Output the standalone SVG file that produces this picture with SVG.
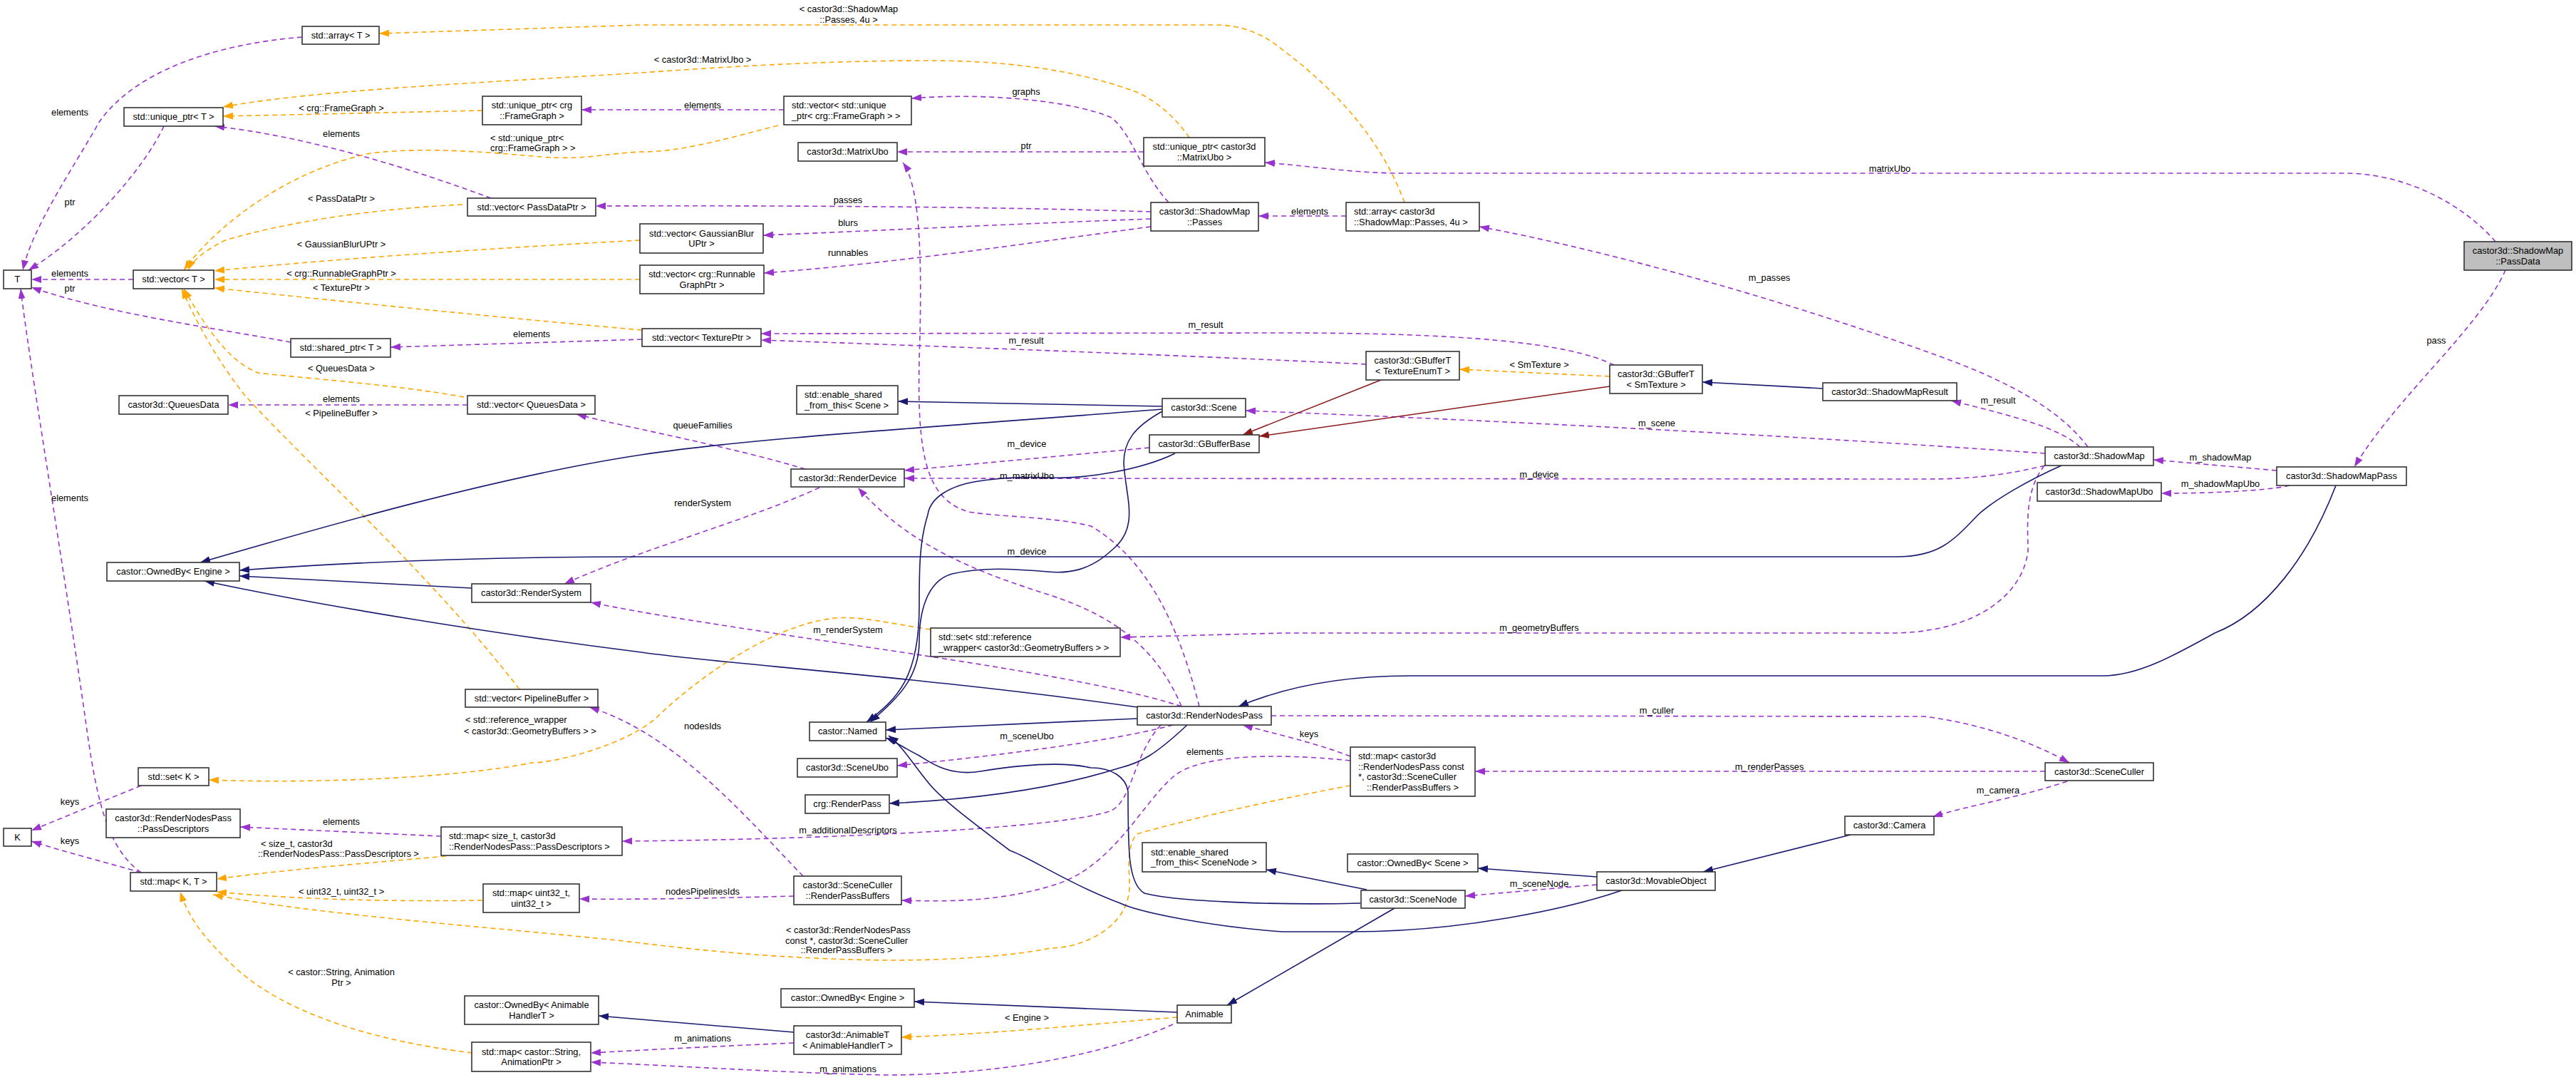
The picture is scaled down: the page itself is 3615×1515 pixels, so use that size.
<svg xmlns="http://www.w3.org/2000/svg" width="3615" height="1515" viewBox="0 0 3615 1515">
<style>
.n rect{fill:#fff;stroke:#333;stroke-width:1.6}
.n rect.g{fill:#bfbfbf}
text{font-family:"Liberation Sans",Arial,sans-serif;font-size:12.8px;fill:#000}
.c{text-anchor:middle}
.u{fill:none;stroke:#9a32cd;stroke-width:1.6;stroke-dasharray:7,5}
.t{fill:none;stroke:#ffa500;stroke-width:1.6;stroke-dasharray:7,5}
.i{fill:none;stroke:#191970;stroke-width:1.6}
.r{fill:none;stroke:#8b1a1a;stroke-width:1.6}
.u{marker-end:url(#mu)}
.t{marker-end:url(#mt)}
.i{marker-end:url(#mi)}
.r{marker-end:url(#mr)}
</style>
<defs>
<marker id="mu" viewBox="0 0 14 10" refX="14" refY="5" markerWidth="14" markerHeight="10" markerUnits="userSpaceOnUse" orient="auto"><path d="M0,0L14,5L0,10z" fill="#9a32cd"/></marker>
<marker id="mt" viewBox="0 0 14 10" refX="14" refY="5" markerWidth="14" markerHeight="10" markerUnits="userSpaceOnUse" orient="auto"><path d="M0,0L14,5L0,10z" fill="#ffa500"/></marker>
<marker id="mi" viewBox="0 0 14 10" refX="14" refY="5" markerWidth="14" markerHeight="10" markerUnits="userSpaceOnUse" orient="auto"><path d="M0,0L14,5L0,10z" fill="#191970"/></marker>
<marker id="mr" viewBox="0 0 14 10" refX="14" refY="5" markerWidth="14" markerHeight="10" markerUnits="userSpaceOnUse" orient="auto"><path d="M0,0L14,5L0,10z" fill="#8b1a1a"/></marker>
</defs>
<rect width="3615" height="1515" fill="#fff"/>
<g id="connectors">
<!-- usage -->
<path class="u" d="M424,52 C300,62 190,100 140,170 C100,240 45,320 32,379"/>
<path class="u" d="M230,177 C200,240 120,330 40,379"/>
<path class="u" d="M187,392 L44,392"/>
<path class="u" d="M408,480 C300,460 150,440 44,403"/>
<path class="u" d="M198,1224 C150,1190 135,1120 120,1010 C90,800 40,500 29,405"/>
<path class="u" d="M689,278 C560,230 420,190 301,177"/>
<path class="u" d="M1100,154 L816,154"/>
<path class="u" d="M1640,284 C1600,240 1590,190 1560,165 C1500,140 1380,130 1279,138"/>
<path class="u" d="M1605,213 L1259,213"/>
<path class="u" d="M1615,297 C1400,290 1100,288 836,289"/>
<path class="u" d="M1615,307 C1400,315 1200,325 1071,330"/>
<path class="u" d="M1615,318 C1450,340 1250,370 1072,383"/>
<path class="u" d="M1889,303 L1766,303"/>
<path class="u" d="M3502,339 C3460,290 3380,243 3290,243 L1966,243 C1900,243 1830,232 1775,228"/>
<path class="u" d="M2930,627 C2880,560 2780,520 2700,492 C2500,420 2250,350 2076,318"/>
<path class="u" d="M3516,379 C3480,460 3360,560 3304,655"/>
<path class="u" d="M2265,512 C2200,480 2050,467 1800,467 L1068,468"/>
<path class="u" d="M1917,511 C1700,500 1300,485 1068,477"/>
<path class="u" d="M901,476 L548,487"/>
<path class="u" d="M2919,627 C2890,600 2830,585 2738,562"/>
<path class="u" d="M2870,636 C2500,610 2100,590 1748,576"/>
<path class="u" d="M2870,653 C2800,670 2750,672 2700,672 L1269,671"/>
<path class="u" d="M1613,628 L1269,660"/>
<path class="u" d="M2869,653 C2840,690 2846,740 2846,772 C2840,830 2780,885 2661,888 L1800,888 L1572,894"/>
<path class="u" d="M3195,660 L3022,645"/>
<path class="u" d="M3213,681 C3190,687 3120,692 3033,692"/>
<path class="u" d="M1130,658 C1020,625 880,600 809,581"/>
<path class="u" d="M656,568 L320,568"/>
<path class="u" d="M1150,684 C1050,730 900,770 792,819"/>
<path class="u" d="M1658,991 C1620,900 1550,860 1474,835 C1380,805 1280,770 1204,684"/>
<path class="u" d="M1658,991 C1550,955 1300,920 1130,895 C1000,875 900,860 829,845"/>
<path class="u" d="M1683,991 C1660,900 1620,790 1531,738 C1480,725 1400,725 1359,718 C1300,700 1287,640 1290,505 C1295,350 1290,260 1267,228"/>
<path class="u" d="M1646,1017 C1560,1040 1400,1060 1259,1074"/>
<path class="u" d="M1784,1004 L2700,1005 C2780,1015 2850,1040 2904,1070"/>
<path class="u" d="M2870,1082 L2070,1082"/>
<path class="u" d="M1895,1061 C1840,1040 1790,1030 1744,1017"/>
<path class="u" d="M1895,1067 C1780,1055 1680,1060 1646,1090 C1600,1130 1560,1220 1474,1243 C1400,1265 1330,1265 1265,1263"/>
<path class="u" d="M1629,1017 C1590,1060 1590,1120 1560,1137 C1500,1160 1200,1177 873,1180"/>
<path class="u" d="M619,1173 L337,1160"/>
<path class="u" d="M1127,1229 C1050,1150 950,1030 827,992"/>
<path class="u" d="M1114,1257 C1000,1260 900,1262 813,1261"/>
<path class="u" d="M198,1102 L44,1165"/>
<path class="u" d="M198,1224 C150,1210 90,1195 44,1180"/>
<path class="u" d="M1114,1463 C1000,1468 900,1473 829,1477"/>
<path class="u" d="M1646,1437 C1550,1480 1400,1508 1244,1508 C1100,1505 950,1495 829,1490"/>
<path class="u" d="M2241,1241 L2056,1257"/>
<path class="u" d="M2901,1096 C2830,1120 2760,1130 2712,1146"/>
<!-- template -->
<path class="t" d="M1971,284 C1940,200 1880,130 1800,70 C1770,45 1740,35 1704,35 L900,35 L532,47"/>
<path class="t" d="M1669,193 C1640,150 1600,130 1589,127 C1500,95 1400,85 1302,85 C1150,85 1000,95 900,102 C700,115 450,125 313,150"/>
<path class="t" d="M677,155 L313,163"/>
<path class="t" d="M1092,176 C1000,200 950,213 900,213 C850,215 820,225 760,220 C700,215 600,205 520,215 C400,240 300,320 258,379"/>
<path class="t" d="M649,287 C520,293 400,312 316,337 C290,350 270,365 264,379"/>
<path class="t" d="M898,337 C750,345 500,360 301,380"/>
<path class="t" d="M898,392 L301,392"/>
<path class="t" d="M901,463 C750,450 500,425 301,404"/>
<path class="t" d="M651,557 C560,540 420,530 362,523 C330,510 300,480 258,405"/>
<path class="t" d="M729,967 C600,800 430,650 344,555 C300,500 270,440 255,405"/>
<path class="t" d="M2259,528 L2048,518"/>
<path class="t" d="M1306,883 C1250,875 1200,862 1164,868 C1080,880 980,950 923,1005 C880,1045 780,1070 746,1070 C650,1090 450,1100 293,1094"/>
<path class="t" d="M626,1201 C500,1212 400,1220 304,1233"/>
<path class="t" d="M677,1263 C550,1265 420,1262 304,1251"/>
<path class="t" d="M1895,1102 C1850,1110 1700,1140 1595,1170 C1580,1190 1585,1220 1585,1243 C1585,1300 1520,1330 1474,1330 C1400,1345 1300,1347 1244,1347 C1100,1345 1000,1335 900,1323 C750,1305 450,1285 299,1255"/>
<path class="t" d="M663,1477 C520,1460 400,1420 333,1360 C290,1320 265,1290 253,1251"/>
<path class="t" d="M1652,1427 C1550,1435 1400,1450 1265,1455"/>
<!-- inheritance -->
<path class="i" d="M1631,570 L1260,563"/>
<path class="i" d="M1631,574 C1300,600 1050,615 900,638 C700,668 450,740 281,789"/>
<path class="i" d="M1631,577 C1590,600 1577,620 1577,650 C1580,700 1600,740 1560,772 C1530,800 1500,805 1470,802 C1420,798 1380,795 1336,805 C1300,815 1290,860 1290,900 C1290,950 1260,980 1221,1013"/>
<path class="i" d="M1649,636 C1600,660 1520,672 1474,670 C1420,668 1394,672 1380,674 C1330,680 1305,700 1302,722 C1290,760 1290,800 1290,850 C1290,950 1260,980 1216,1013"/>
<path class="i" d="M2893,653 C2850,672 2800,700 2776,722 C2740,760 2720,781 2661,781 L900,781 C700,781 500,788 336,800"/>
<path class="i" d="M662,825 L336,808"/>
<path class="i" d="M1596,992 C1300,950 1000,930 900,915 C700,890 450,850 287,815"/>
<path class="i" d="M1596,1008 L1243,1024"/>
<path class="i" d="M1666,1017 C1620,1060 1600,1070 1572,1077 C1500,1100 1400,1120 1248,1127"/>
<path class="i" d="M3278,681 C3240,780 3180,860 3108,888 C3050,920 3000,948 2951,948 L1978,948 C1880,948 1800,965 1738,991"/>
<path class="i" d="M2558,545 L2389,536"/>
<path class="i" d="M1909,1267 C1800,1270 1650,1265 1606,1253 C1583,1240 1583,1193 1583,1110 C1580,1090 1560,1077 1531,1077 C1500,1070 1450,1070 1376,1082 C1330,1090 1302,1067 1290,1060 C1270,1050 1256,1040 1243,1035"/>
<path class="i" d="M2276,1249 C2200,1275 2050,1307 1898,1307 L1800,1307 C1700,1300 1600,1280 1572,1267 C1500,1240 1440,1200 1417,1193 C1360,1150 1320,1120 1302,1097 C1280,1070 1265,1045 1247,1032"/>
<path class="i" d="M1918,1248 L1777,1220"/>
<path class="i" d="M1957,1274 L1722,1410"/>
<path class="i" d="M2241,1230 L2074,1218"/>
<path class="i" d="M2597,1171 L2390,1223"/>
<path class="i" d="M1652,1420 L1283,1405"/>
<path class="i" d="M1114,1448 L840,1425"/>
<!-- private inheritance -->
<path class="r" d="M1938,533 L1744,610"/>
<path class="r" d="M2259,542 L1767,612"/>
<!-- labels -->
<g class="c">
<text x="98" y="162">elements</text>
<text x="98" y="288">ptr</text>
<text x="98" y="388">elements</text>
<text x="98" y="409">ptr</text>
<text x="98" y="703">elements</text>
<text x="479" y="192">elements</text>
<text x="986" y="152">elements</text>
<text x="1440" y="133">graphs</text>
<text x="1440" y="209">ptr</text>
<text x="1190" y="285">passes</text>
<text x="1190" y="317">blurs</text>
<text x="1190" y="359">runnables</text>
<text x="1838" y="301">elements</text>
<text x="2652" y="241">matrixUbo</text>
<text x="2483" y="394">m_passes</text>
<text x="3419" y="482">pass</text>
<text x="1692" y="460">m_result</text>
<text x="1440" y="482">m_result</text>
<text x="746" y="473">elements</text>
<text x="2804" y="566">m_result</text>
<text x="2325" y="598">m_scene</text>
<text x="2160" y="670">m_device</text>
<text x="1441" y="627">m_device</text>
<text x="2160" y="885">m_geometryBuffers</text>
<text x="3116" y="646">m_shadowMap</text>
<text x="3116" y="683">m_shadowMapUbo</text>
<text x="986" y="601">queueFamilies</text>
<text x="479" y="564">elements</text>
<text x="986" y="710">renderSystem</text>
<text x="1441" y="778">m_device</text>
<text x="1190" y="888">m_renderSystem</text>
<text x="1441" y="672">m_matrixUbo</text>
<text x="1441" y="1037">m_sceneUbo</text>
<text x="2325" y="1001">m_culler</text>
<text x="2483" y="1080">m_renderPasses</text>
<text x="1837" y="1034">keys</text>
<text x="1691" y="1059">elements</text>
<text x="1190" y="1169">m_additionalDescriptors</text>
<text x="479" y="1157">elements</text>
<text x="986" y="1023">nodesIds</text>
<text x="986" y="1255">nodesPipelinesIds</text>
<text x="98" y="1129">keys</text>
<text x="98" y="1184">keys</text>
<text x="986" y="1461">m_animations</text>
<text x="1190" y="1504">m_animations</text>
<text x="2160" y="1244">m_sceneNode</text>
<text x="2804" y="1113">m_camera</text>
<text x="1191" y="17">&lt; castor3d::ShadowMap</text>
<text x="1191" y="32">::Passes, 4u &gt;</text>
<text x="986" y="88">&lt; castor3d::MatrixUbo &gt;</text>
<text x="479" y="156">&lt; crg::FrameGraph &gt;</text>
<text x="479" y="283">&lt; PassDataPtr &gt;</text>
<text x="479" y="347">&lt; GaussianBlurUPtr &gt;</text>
<text x="479" y="388">&lt; crg::RunnableGraphPtr &gt;</text>
<text x="479" y="408">&lt; TexturePtr &gt;</text>
<text x="479" y="521">&lt; QueuesData &gt;</text>
<text x="479" y="584">&lt; PipelineBuffer &gt;</text>
<text x="2160" y="516">&lt; SmTexture &gt;</text>
<text x="479" y="1255">&lt; uint32_t, uint32_t &gt;</text>
<text x="479" y="1368">&lt; castor::String, Animation</text>
<text x="479" y="1383">Ptr &gt;</text>
<text x="1441" y="1432">&lt; Engine &gt;</text>
<text x="1188" y="1337">::RenderPassBuffers &gt;</text>
</g>
<text x="688" y="198">&lt; std::unique_ptr&lt;</text>
<text x="688" y="212">crg::FrameGraph &gt; &gt;</text>
<text x="653" y="1014">&lt; std::reference_wrapper</text>
<text x="651" y="1030">&lt; castor3d::GeometryBuffers &gt; &gt;</text>
<text x="366" y="1188">&lt; size_t, castor3d</text>
<text x="362" y="1202">::RenderNodesPass::PassDescriptors &gt;</text>
<text x="1103" y="1309">&lt; castor3d::RenderNodesPass</text>
<text x="1102" y="1324">const *, castor3d::SceneCuller</text>
</g>
<!-- nodes -->
<g id="n_arrT" class="n"><rect x="424" y="37" width="108" height="25"/><text class="c" x="478" y="54">std::array&lt; T &gt;</text></g>
<g id="n_uptrT" class="n"><rect x="174" y="151" width="139" height="26"/><text class="c" x="243.5" y="168">std::unique_ptr&lt; T &gt;</text></g>
<g id="n_uptrFG" class="n"><rect x="677" y="135" width="139" height="40"/><text class="c" x="746.5" y="152">std::unique_ptr&lt; crg</text><text class="c" x="746.5" y="167">::FrameGraph &gt;</text></g>
<g id="n_vecPDP" class="n"><rect x="656" y="278" width="180" height="25"/><text class="c" x="746" y="295">std::vector&lt; PassDataPtr &gt;</text></g>
<g id="n_T" class="n"><rect x="5" y="379" width="39" height="26"/><text class="c" x="24.5" y="396">T</text></g>
<g id="n_vecT" class="n"><rect x="187" y="379" width="113" height="26"/><text class="c" x="243.5" y="396">std::vector&lt; T &gt;</text></g>
<g id="n_sptrT" class="n"><rect x="408" y="475" width="140" height="26"/><text class="c" x="478" y="492">std::shared_ptr&lt; T &gt;</text></g>
<g id="n_vecUFG" class="n"><rect x="1100" y="135" width="179" height="40"/><text x="1111" y="152">std::vector&lt; std::unique</text><text x="1111" y="167">_ptr&lt; crg::FrameGraph &gt; &gt;</text></g>
<g id="n_matrixUbo" class="n"><rect x="1120" y="200" width="139" height="26"/><text class="c" x="1189.5" y="217">castor3d::MatrixUbo</text></g>
<g id="n_uptrMU" class="n"><rect x="1605" y="193" width="170" height="40"/><text class="c" x="1690" y="210">std::unique_ptr&lt; castor3d</text><text class="c" x="1690" y="225">::MatrixUbo &gt;</text></g>
<g id="n_passes" class="n"><rect x="1615" y="284" width="151" height="40"/><text class="c" x="1690.5" y="301">castor3d::ShadowMap</text><text class="c" x="1690.5" y="316">::Passes</text></g>
<g id="n_vecGB" class="n"><rect x="898" y="314" width="173" height="41"/><text class="c" x="984.5" y="332">std::vector&lt; GaussianBlur</text><text class="c" x="984.5" y="346">UPtr &gt;</text></g>
<g id="n_vecRG" class="n"><rect x="898" y="372" width="174" height="40"/><text class="c" x="985" y="389">std::vector&lt; crg::Runnable</text><text class="c" x="985" y="404">GraphPtr &gt;</text></g>
<g id="n_vecTP" class="n"><rect x="901" y="461" width="167" height="25"/><text class="c" x="984.5" y="478">std::vector&lt; TexturePtr &gt;</text></g>
<g id="n_arrP4" class="n"><rect x="1889" y="284" width="187" height="40"/><text x="1900" y="301">std::array&lt; castor3d</text><text x="1900" y="316">::ShadowMap::Passes, 4u &gt;</text></g>
<g id="n_passData" class="n"><rect class="g" x="3458" y="339" width="151" height="40"/><text class="c" x="3533.5" y="356">castor3d::ShadowMap</text><text class="c" x="3533.5" y="371">::PassData</text></g>
<g id="n_queuesData" class="n"><rect x="167" y="555" width="153" height="26"/><text class="c" x="243.5" y="572">castor3d::QueuesData</text></g>
<g id="n_vecQD" class="n"><rect x="656" y="555" width="179" height="26"/><text class="c" x="745.5" y="572">std::vector&lt; QueuesData &gt;</text></g>
<g id="n_ownedEngine" class="n"><rect x="150" y="789" width="186" height="26"/><text class="c" x="243" y="806">castor::OwnedBy&lt; Engine &gt;</text></g>
<g id="n_renderSystem" class="n"><rect x="662" y="819" width="167" height="26"/><text class="c" x="745.5" y="836">castor3d::RenderSystem</text></g>
<g id="n_vecPB" class="n"><rect x="653" y="967" width="186" height="25"/><text class="c" x="746" y="984">std::vector&lt; PipelineBuffer &gt;</text></g>
<g id="n_esfScene" class="n"><rect x="1118" y="541" width="142" height="40"/><text x="1129" y="558">std::enable_shared</text><text x="1129" y="573">_from_this&lt; Scene &gt;</text></g>
<g id="n_scene" class="n"><rect x="1631" y="559" width="117" height="26"/><text class="c" x="1689.5" y="576">castor3d::Scene</text></g>
<g id="n_gbufBase" class="n"><rect x="1613" y="610" width="154" height="25"/><text class="c" x="1690" y="627">castor3d::GBufferBase</text></g>
<g id="n_renderDevice" class="n"><rect x="1110" y="658" width="159" height="25"/><text class="c" x="1189.5" y="675">castor3d::RenderDevice</text></g>
<g id="n_setRW" class="n"><rect x="1306" y="881" width="266" height="40"/><text x="1317" y="898">std::set&lt; std::reference</text><text x="1317" y="913">_wrapper&lt; castor3d::GeometryBuffers &gt; &gt;</text></g>
<g id="n_rnp" class="n"><rect x="1596" y="991" width="188" height="26"/><text class="c" x="1690" y="1008">castor3d::RenderNodesPass</text></g>
<g id="n_gbufTE" class="n"><rect x="1917" y="493" width="131" height="40"/><text class="c" x="1982.5" y="510">castor3d::GBufferT</text><text class="c" x="1982.5" y="525">&lt; TextureEnumT &gt;</text></g>
<g id="n_gbufSM" class="n"><rect x="2259" y="512" width="130" height="40"/><text class="c" x="2324" y="529">castor3d::GBufferT</text><text class="c" x="2324" y="544">&lt; SmTexture &gt;</text></g>
<g id="n_smResult" class="n"><rect x="2558" y="537" width="188" height="25"/><text class="c" x="2652" y="554">castor3d::ShadowMapResult</text></g>
<g id="n_shadowMap" class="n"><rect x="2870" y="627" width="152" height="26"/><text class="c" x="2946" y="644">castor3d::ShadowMap</text></g>
<g id="n_smPass" class="n"><rect x="3195" y="655" width="182" height="26"/><text class="c" x="3286" y="672">castor3d::ShadowMapPass</text></g>
<g id="n_smUbo" class="n"><rect x="2859" y="677" width="174" height="26"/><text class="c" x="2946" y="694">castor3d::ShadowMapUbo</text></g>
<g id="n_setK" class="n"><rect x="194" y="1077" width="99" height="25"/><text class="c" x="243.5" y="1094">std::set&lt; K &gt;</text></g>
<g id="n_passDesc" class="n"><rect x="149" y="1135" width="188" height="40"/><text class="c" x="243" y="1152">castor3d::RenderNodesPass</text><text class="c" x="243" y="1167">::PassDescriptors</text></g>
<g id="n_K" class="n"><rect x="5" y="1162" width="39" height="25"/><text class="c" x="24.5" y="1179">K</text></g>
<g id="n_mapKT" class="n"><rect x="183" y="1224" width="121" height="26"/><text class="c" x="243.5" y="1241">std::map&lt; K, T &gt;</text></g>
<g id="n_mapSize" class="n"><rect x="619" y="1160" width="254" height="40"/><text x="630" y="1177">std::map&lt; size_t, castor3d</text><text x="630" y="1192">::RenderNodesPass::PassDescriptors &gt;</text></g>
<g id="n_mapU32" class="n"><rect x="678" y="1240" width="135" height="40"/><text class="c" x="745.5" y="1257">std::map&lt; uint32_t,</text><text class="c" x="745.5" y="1272">uint32_t &gt;</text></g>
<g id="n_ownedAH" class="n"><rect x="652" y="1397" width="188" height="40"/><text class="c" x="746" y="1414">castor::OwnedBy&lt; Animable</text><text class="c" x="746" y="1429">HandlerT &gt;</text></g>
<g id="n_mapStr" class="n"><rect x="662" y="1462" width="167" height="41"/><text class="c" x="745.5" y="1480">std::map&lt; castor::String,</text><text class="c" x="745.5" y="1494">AnimationPtr &gt;</text></g>
<g id="n_named" class="n"><rect x="1136" y="1013" width="107" height="26"/><text class="c" x="1189.5" y="1030">castor::Named</text></g>
<g id="n_sceneUbo" class="n"><rect x="1119" y="1064" width="140" height="26"/><text class="c" x="1189" y="1081">castor3d::SceneUbo</text></g>
<g id="n_renderPass" class="n"><rect x="1130" y="1115" width="118" height="26"/><text class="c" x="1189" y="1132">crg::RenderPass</text></g>
<g id="n_rpb" class="n"><rect x="1114" y="1229" width="151" height="40"/><text class="c" x="1189.5" y="1246">castor3d::SceneCuller</text><text class="c" x="1189.5" y="1261">::RenderPassBuffers</text></g>
<g id="n_ownedEngine2" class="n"><rect x="1096" y="1387" width="187" height="26"/><text class="c" x="1189.5" y="1404">castor::OwnedBy&lt; Engine &gt;</text></g>
<g id="n_animableT" class="n"><rect x="1114" y="1439" width="151" height="40"/><text class="c" x="1189.5" y="1456">castor3d::AnimableT</text><text class="c" x="1189.5" y="1471">&lt; AnimableHandlerT &gt;</text></g>
<g id="n_animable" class="n"><rect x="1652" y="1410" width="76" height="25"/><text class="c" x="1690" y="1427">Animable</text></g>
<g id="n_esfSN" class="n"><rect x="1603" y="1182" width="174" height="41"/><text x="1615" y="1200">std::enable_shared</text><text x="1615" y="1214">_from_this&lt; SceneNode &gt;</text></g>
<g id="n_mapRNP" class="n"><rect x="1895" y="1048" width="175" height="69"/><text x="1906" y="1065">std::map&lt; castor3d</text><text x="1906" y="1080">::RenderNodesPass const</text><text x="1906" y="1094">*, castor3d::SceneCuller</text><text class="c" x="1982.5" y="1109">::RenderPassBuffers &gt;</text></g>
<g id="n_camera" class="n"><rect x="2589" y="1145" width="125" height="26"/><text class="c" x="2651.5" y="1162">castor3d::Camera</text></g>
<g id="n_ownedScene" class="n"><rect x="1891" y="1198" width="183" height="25"/><text class="c" x="1982.5" y="1215">castor::OwnedBy&lt; Scene &gt;</text></g>
<g id="n_movable" class="n"><rect x="2241" y="1223" width="166" height="26"/><text class="c" x="2324" y="1240">castor3d::MovableObject</text></g>
<g id="n_sceneNode" class="n"><rect x="1910" y="1249" width="146" height="25"/><text class="c" x="1983" y="1266">castor3d::SceneNode</text></g>
<g id="n_sceneCuller" class="n"><rect x="2870" y="1070" width="152" height="25"/><text class="c" x="2946" y="1087">castor3d::SceneCuller</text></g>
</svg>
